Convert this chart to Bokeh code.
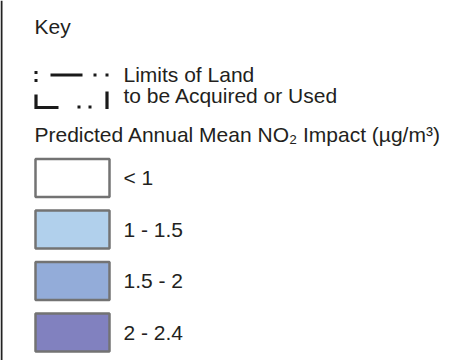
from bokeh.plotting import figure
from bokeh.models import Range1d, ColumnDataSource
from bokeh.core.properties import value
from bokeh.embed import file_html
from bokeh.resources import INLINE

# ---- data ----
key_title = "Key"
limits_lines = ["Limits of Land", "to be Acquired or Used"]
impact_title = "Predicted Annual Mean NO\u2082 Impact (\u00b5g/m\u00b3)"
categories = ["< 1", "1 - 1.5", "1.5 - 2", "2 - 2.4"]
fill_colors = ["#ffffff", "#b1d0ec", "#93acd9", "#8181bf"]

# ---- layout constants (reference pixel space) ----
FONT = "Liberation Sans"
FS = "21px"
TXT = "#231f20"
TDY = -8          # compensation for text baseline placement
X_LEFT = 34
X_LABEL = 123
BOX_W = 76
BOX_H = 38
BOX_TOP0 = 158.5
BOX_STEP = 51.5

p = figure(width=461, height=360, output_backend="svg", toolbar_location=None,
           x_range=Range1d(0, 461), y_range=Range1d(360, 0),
           min_border=0, background_fill_color="white", border_fill_color="white")
p.axis.visible = False
p.grid.visible = False
p.outline_line_color = None

# left frame line
p.segment(x0=[1], y0=[0], x1=[1], y1=[360], line_color="#222222", line_width=2)

# headings
p.text(x=[X_LEFT], y=[34 + TDY], text=[key_title], text_font=value(FONT),
       text_font_size=FS, text_color=TXT, text_baseline="alphabetic")
p.text(x=[X_LABEL, X_LABEL], y=[82 + TDY, 103 + TDY], text=limits_lines, text_font=value(FONT),
       text_font_size=FS, text_color=TXT, text_baseline="alphabetic")
p.text(x=[X_LEFT], y=[142 + TDY], text=[impact_title], text_font=value(FONT),
       text_font_size=FS, text_color=TXT, text_baseline="alphabetic")

# limits-of-land symbol (dash-dot boundary)
ox, oy = X_LEFT, 70
bars_x0 = [ox + 16, ox + 1.5, ox + 1.5, ox + 72.5]
bars_y0 = [oy + 4.5, oy + 24, oy + 37, oy + 21]
bars_x1 = [ox + 48, ox + 1.5, ox + 24, ox + 72.5]
bars_y1 = [oy + 4.5, oy + 38.5, oy + 37, oy + 38.5]
p.segment(x0=bars_x0, y0=bars_y0, x1=bars_x1, y1=bars_y1,
          line_color="#1a1a1a", line_width=3.2, line_cap="butt")
dots_x = [ox + 1.5, ox + 1.5, ox + 60.5, ox + 72.5, ox + 44.5, ox + 55.5]
dots_y = [oy + 2, oy + 10, oy + 4.5, oy + 4.5, oy + 36.5, oy + 36.5]
p.rect(x=dots_x, y=dots_y, width=3, height=3.2, fill_color="#1a1a1a", line_color=None)

# colour boxes
n = len(categories)
tops = [BOX_TOP0 + i * BOX_STEP for i in range(n)]
src = ColumnDataSource(dict(
    left=[X_LEFT + 1] * n,
    right=[X_LEFT + BOX_W - 1] * n,
    top=tops,
    bottom=[t + BOX_H for t in tops],
    color=fill_colors,
    label=categories,
    ly=[t + BOX_H / 2 + 7.5 + TDY for t in tops],
    lx=[X_LABEL] * n,
))
p.quad(left="left", right="right", top="top", bottom="bottom", source=src,
       fill_color="color", line_color="#737373", line_width=2.5)
p.text(x="lx", y="ly", text="label", source=src, text_font=value(FONT),
       text_font_size=FS, text_color=TXT, text_baseline="alphabetic")

open("out.html", "w").write(file_html(p, INLINE))
